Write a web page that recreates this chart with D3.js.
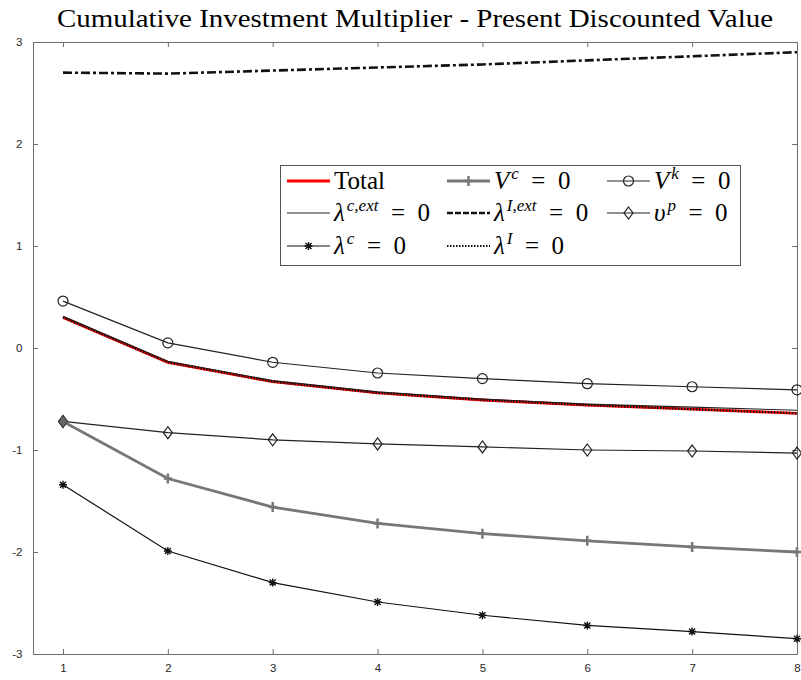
<!DOCTYPE html>
<html>
<head>
<meta charset="utf-8">
<script src="https://cdn.jsdelivr.net/npm/d3@7"></script>
<style>
  body { margin: 0; background: #fff; }
  svg { display: block; }
  .tick text { font-family: "Liberation Sans", Arial, sans-serif; font-size: 11.5px; fill: #262626; }
</style>
</head>
<body>
<svg width="801" height="680"></svg>
<script>
const periods = [1, 2, 3, 4, 5, 6, 7, 8];
const yTicks = [-3, -2, -1, 0, 1, 2, 3];

// series values
const total    = [0.30, -0.14, -0.33, -0.44, -0.51, -0.56, -0.60, -0.64];
const vcZero   = [-0.72, -1.28, -1.56, -1.72, -1.82, -1.89, -1.95, -2.00];
const vkZero   = [0.46, 0.05, -0.14, -0.245, -0.30, -0.35, -0.38, -0.41];
const lcExt    = [0.31, -0.13, -0.32, -0.43, -0.50, -0.55, -0.58, -0.61];
const lIExt    = [2.70, 2.69, 2.72, 2.75, 2.78, 2.82, 2.86, 2.90];
const vpZero   = [-0.72, -0.83, -0.90, -0.94, -0.97, -1.00, -1.01, -1.03];
const lcZero   = [-1.34, -1.99, -2.30, -2.49, -2.62, -2.72, -2.78, -2.85];
const lIZero   = [0.30, -0.14, -0.33, -0.44, -0.51, -0.56, -0.60, -0.64];

const svg = d3.select('svg');
const margin = {left: 33, right: 4, top: 42, bottom: 26};
const W = 801, H = 680;

const x = d3.scaleLinear().domain([0.714, 8]).range([margin.left, W - margin.right]);
const y = d3.scaleLinear().domain([-3, 3]).range([H - margin.bottom, margin.top]);

const axisColor = '#6e6e6e';
const plain = d => String(d);

// axes (box, inward ticks)
const gx = svg.append('g')
  .attr('transform', `translate(0,${y(-3)})`)
  .call(d3.axisBottom(x).tickValues(periods).tickSizeInner(-5).tickSizeOuter(0).tickPadding(10).tickFormat(plain));
const gxTop = svg.append('g')
  .attr('transform', `translate(0,${y(3)})`)
  .call(d3.axisTop(x).tickValues(periods).tickSizeInner(-5).tickSizeOuter(0).tickFormat(''));
const gy = svg.append('g')
  .attr('transform', `translate(${x.range()[0]},0)`)
  .call(d3.axisLeft(y).tickValues(yTicks).tickSizeInner(-5).tickSizeOuter(0).tickPadding(14).tickFormat(plain));
const gyRight = svg.append('g')
  .attr('transform', `translate(${x.range()[1]},0)`)
  .call(d3.axisRight(y).tickValues(yTicks).tickSizeInner(-5).tickSizeOuter(0).tickFormat(''));
[gx, gxTop, gy, gyRight].forEach(g => {
  g.selectAll('path.domain').attr('stroke', axisColor);
  g.selectAll('.tick line').attr('stroke', axisColor);
});
gy.selectAll('.tick text').attr('text-anchor', 'end').attr('dx', '0.3em');

// title
svg.append('text')
  .attr('x', 57)
  .attr('y', 27)
  .attr('textLength', 716)
  .attr('lengthAdjust', 'spacingAndGlyphs')
  .style('font-family', '"Liberation Serif", "DejaVu Serif", serif')
  .style('font-size', '25px')
  .text('Cumulative Investment Multiplier - Present Discounted Value');

const line = d3.line().x((d, i) => x(periods[i])).y(d => y(d));

// marker drawers
function circleMark(g, cx, cy) {
  g.append('circle').attr('cx', cx).attr('cy', cy).attr('r', 5)
    .attr('fill', 'none').attr('stroke', '#222').attr('stroke-width', 1.2);
}
function diamondMark(g, cx, cy) {
  g.append('path').attr('d', `M${cx},${cy - 6}L${cx + 4.5},${cy}L${cx},${cy + 6}L${cx - 4.5},${cy}Z`)
    .attr('fill', 'none').attr('stroke', '#222').attr('stroke-width', 1.2);
}
function plusMark(g, cx, cy) {
  g.append('path').attr('d', `M${cx - 4},${cy}H${cx + 4}M${cx},${cy - 5}V${cy + 5}`)
    .attr('stroke', '#777').attr('stroke-width', 2.5);
}
function starMark(g, cx, cy) {
  g.append('path')
    .attr('d', `M${cx - 4},${cy}H${cx + 4}M${cx},${cy - 4}V${cy + 4}M${cx - 3},${cy - 3}L${cx + 3},${cy + 3}M${cx - 3},${cy + 3}L${cx + 3},${cy - 3}`)
    .attr('stroke', '#111').attr('stroke-width', 1.4);
}

const series = [
  {data: lIExt, color: '#111', width: 2.6, dash: '9,3,3,3'},
  {data: vkZero, color: '#222', width: 1.2, marker: circleMark},
  {data: vpZero, color: '#222', width: 1.2, marker: diamondMark},
  {data: lcZero, color: '#111', width: 1.2, marker: starMark},
  {data: vcZero, color: '#777', width: 2.8, marker: plusMark},
  {data: total, color: '#ff0000', width: 2.8},
  {data: lcExt, color: '#222', width: 1.1},
  {data: lIZero, color: '#111', width: 2.2, dash: '1.5,1.5'}
];

const plot = svg.append('g');
series.forEach(s => {
  plot.append('path')
    .attr('d', line(s.data))
    .attr('fill', 'none')
    .attr('stroke', s.color)
    .attr('stroke-width', s.width)
    .attr('stroke-dasharray', s.dash || null);
  if (s.marker) {
    const mg = plot.append('g');
    s.data.forEach((d, i) => s.marker(mg, x(periods[i]), y(d)));
  }
});
// overlapping first diamond appears filled grey
const d0x = x(periods[0]), d0y = y(vpZero[0]);
plot.append('path')
  .attr('d', `M${d0x},${d0y - 6}L${d0x + 4.5},${d0y}L${d0x},${d0y + 6}L${d0x - 4.5},${d0y}Z`)
  .attr('fill', '#666').attr('stroke', '#333');

// legend
const lg = svg.append('g');
lg.append('rect').attr('x', 280.5).attr('y', 165.5).attr('width', 460).attr('height', 100)
  .attr('fill', '#fff').attr('stroke', '#555').attr('stroke-width', 1);

const mathFont = '"Liberation Serif", "DejaVu Serif", serif';
const eq = '\u2002=\u20020';
const legendItems = [
  {col: 0, row: 0, color: '#ff0000', width: 2.8, label: [['Total', false]]},
  {col: 1, row: 0, color: '#777', width: 2.8, marker: plusMark, label: [['V', true], ['c', true, 'sup'], [eq, false]]},
  {col: 2, row: 0, color: '#222', width: 1.2, marker: circleMark, label: [['V', true], ['k', true, 'sup'], [eq, false]]},
  {col: 0, row: 1, color: '#222', width: 1.1, label: [['λ', true], ['c,ext', true, 'sup'], [eq, false]]},
  {col: 1, row: 1, color: '#111', width: 2.6, dash: '6,2', label: [['λ', true], ['I,ext', true, 'sup'], [eq, false]]},
  {col: 2, row: 1, color: '#222', width: 1.2, marker: diamondMark, label: [['υ', true], ['p', true, 'sup'], [eq, false]]},
  {col: 0, row: 2, color: '#111', width: 1.2, marker: starMark, label: [['λ', true], ['c', true, 'sup'], [eq, false]]},
  {col: 1, row: 2, color: '#111', width: 2.2, dash: '1.5,1.5', label: [['λ', true], ['I', true, 'sup'], [eq, false]]}
];
const colX = [287, 447, 607];
const rowY = [181, 213, 246];
legendItems.forEach(it => {
  const x0 = colX[it.col], yy = rowY[it.row];
  lg.append('line').attr('x1', x0).attr('x2', x0 + 43).attr('y1', yy).attr('y2', yy)
    .attr('stroke', it.color).attr('stroke-width', it.width).attr('stroke-dasharray', it.dash || null);
  if (it.marker) it.marker(lg, x0 + 21.5, yy);
  const t = lg.append('text').attr('x', x0 + 47).attr('y', yy + 8)
    .style('font-family', mathFont).style('font-size', '25px');
  let afterSup = false;
  it.label.forEach(([s, ital, pos]) => {
    const ts = t.append('tspan').text(s).style('font-style', ital ? 'italic' : 'normal');
    if (pos === 'sup') {
      ts.attr('dx', 2).attr('dy', -10).style('font-size', '17px');
      afterSup = true;
    } else if (afterSup) {
      ts.attr('dy', 10);
      afterSup = false;
    }
  });
});
</script>
</body>
</html>
